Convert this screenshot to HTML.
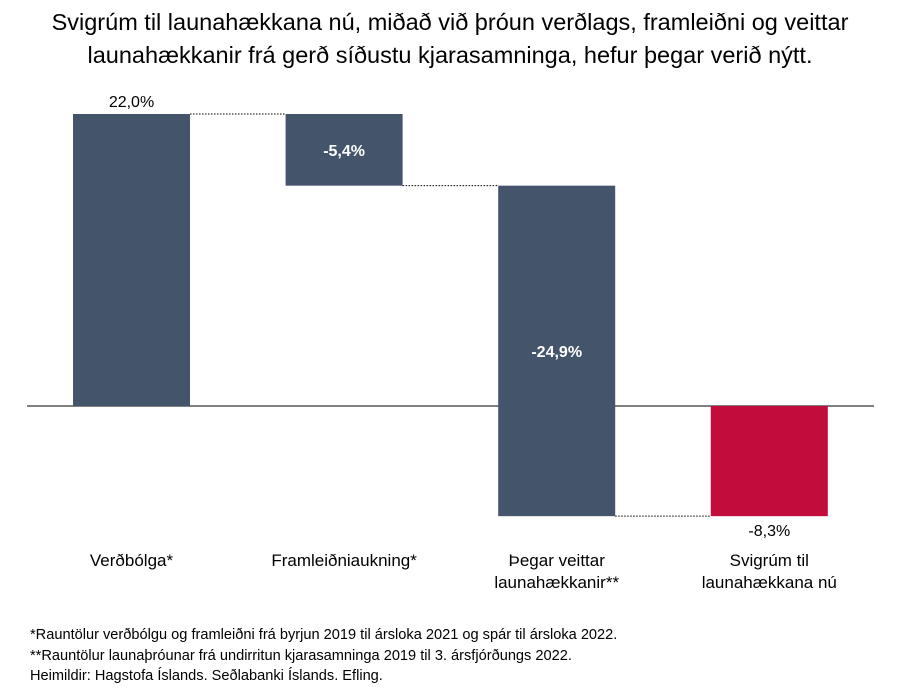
<!DOCTYPE html>
<html><head><meta charset="utf-8"><style>
body{margin:0;background:#fff;}
svg{display:block;font-family:"Liberation Sans",Arial,sans-serif;}
</style></head><body>
<svg id="chart" width="899" height="691">
<text x="450" y="30" text-anchor="middle" font-size="23.5" fill="#000">Svigrúm til launahækkana nú, miðað við þróun verðlags, framleiðni og veittar</text>
<text x="450" y="63" text-anchor="middle" font-size="23.5" fill="#000">launahækkanir frá gerð síðustu kjarasamninga, hefur þegar verið nýtt.</text>
<line x1="27" y1="406" x2="874" y2="406" stroke="#000" stroke-width="1"/>
<g id="marks"></g>
<text x="30" y="639" font-size="14.6" fill="#000">*Rauntölur verðbólgu og framleiðni frá byrjun 2019 til ársloka 2021 og spár til ársloka 2022.</text>
<text x="30" y="660" font-size="14.6" fill="#000">**Rauntölur launaþróunar frá undirritun kjarasamninga 2019 til 3. ársfjórðungs 2022.</text>
<text x="30" y="680" font-size="14.6" fill="#000">Heimildir: Hagstofa Íslands. Seðlabanki Íslands. Efling.</text>
</svg>
<script>
const categories=[["Verðbólga*"],["Framleiðniaukning*"],["Þegar veittar","launahækkanir**"],["Svigrúm til","launahækkana nú"]];
const values=[22.0,-5.4,-24.9,-8.3];
const labels=["22,0%","-5,4%","-24,9%","-8,3%"];
const isTotal=[false,false,false,true];
const NS="http://www.w3.org/2000/svg";
const y0=406, k=292/22;
function y(v){return y0-v*k;}
function xLeft(i){return 73+i*212.6;}
const bw=117;
const g=document.getElementById('marks');
function mk(t,a){const e=document.createElementNS(NS,t);for(const n in a)e.setAttribute(n,a[n]);g.appendChild(e);return e;}
let cum=0;
for(let i=0;i<values.length;i++){
  let a,b;
  if(isTotal[i]){a=0;b=values[i];}else{a=cum;b=cum+values[i];cum=b;}
  const top=Math.min(y(a),y(b)),bot=Math.max(y(a),y(b));
  const r=mk('rect',{x:xLeft(i),y:top,width:bw,height:bot-top,fill:isTotal[i]?'#c20c3b':'#44546a'});
  
  
  const cx=xLeft(i)+bw/2;
  let ly,col='#fff',w='bold';
  if(i===0){ly=top-7;col='#000';w='normal';}
  else if(isTotal[i]){ly=bot+20;col='#000';w='normal';}
  else ly=(top+bot)/2+6;
  const t=mk('text',{x:cx,y:ly,'text-anchor':'middle','font-size':16,fill:col,'font-weight':w});
  t.textContent=labels[i];
  
  
  categories[i].forEach((s,j)=>{
    const c=mk('text',{x:cx,y:566+j*22,'text-anchor':'middle','font-size':17,fill:'#000'});
    c.textContent=s;
    
    
  });
  if(i<values.length-1){
    const end=isTotal[i]?b:cum;
    const ln=mk('line',{x1:xLeft(i)+bw,x2:xLeft(i+1),y1:y(end),y2:y(end),stroke:'#000','stroke-width':1,'stroke-dasharray':'1.5,1.5'});
    
    
  }
}
</script>
</body></html>
